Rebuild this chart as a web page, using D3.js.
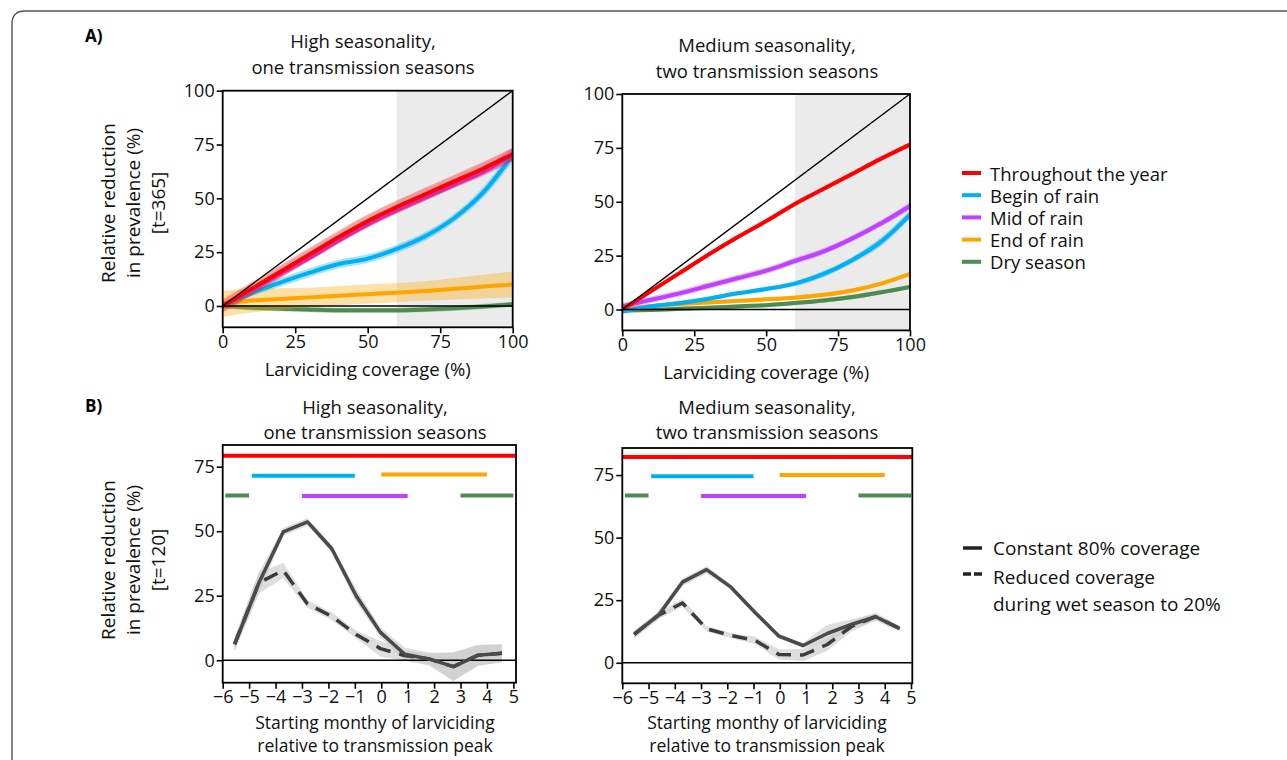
<!DOCTYPE html>
<html>
<head>
<meta charset="utf-8">
<script src="https://cdnjs.cloudflare.com/ajax/libs/d3/7.8.5/d3.min.js"></script>
<style>
  body { margin: 0; background: #fff; }
  svg { display: block; font-family: "Open Sans", Lato, sans-serif; }
</style>
</head>
<body>
<svg id="chart" width="1287" height="760"></svg>
<script>
// ---------------- data ----------------
let seasonNames = ['Throughout the year', 'Begin of rain', 'Mid of rain', 'End of rain', 'Dry season'];
let seasonColors = ['#ff0000', '#00b0f0', '#bf40ff', '#ffa500', '#4f8a4f'];

// A) relative reduction vs larviciding coverage
let coverage = [0, 10, 20, 30, 40, 50, 60, 70, 80, 90, 100];

let highThroughout = [0, 8, 16, 24, 32, 39.5, 46, 52, 58, 64, 70.5];
let highBegin      = [0, 6, 11, 15.5, 19.5, 22, 26.5, 32.5, 41, 53, 70];
let highMid        = [0, 7.5, 15, 22.5, 30.5, 38, 44.5, 50.5, 56.5, 62.5, 70.5];
let highEnd        = [1, 2.5, 3.2, 4, 4.8, 5.5, 6.2, 7, 8, 9, 10];
let highDry        = [0, -0.8, -1.3, -1.7, -2, -2, -2, -1.6, -1, -0.2, 0.8];
let highThroughoutCI = [3, 3, 3, 3, 3, 3, 3, 3, 3, 3, 3];
let highBeginCI      = [1, 1.5, 2, 2, 2, 2, 2, 2, 2, 2.5, 3];
let highMidCI        = [1.5, 1.5, 1.5, 1.5, 1.5, 1.5, 1.5, 1.5, 1.5, 2, 3];
let highEndCI        = [6, 5.5, 5, 4.5, 4.5, 4.5, 4.5, 4.5, 5, 5.5, 6];
let highDryCI        = [1.2, 1.2, 1.2, 1.2, 1.2, 1.2, 1.2, 1.2, 1.2, 1.2, 1.2];

let medThroughout = [0, 8.5, 17, 25.5, 33.5, 41, 49, 56, 63, 70, 76.5];
let medBegin      = [-1, 1.5, 3, 5, 7.5, 9.5, 12, 16.5, 23, 31.5, 44];
let medMid        = [1.5, 4.5, 7.5, 11, 14.5, 18, 22.5, 27, 33, 40, 48];
let medEnd        = [0, 1.5, 2.5, 3.3, 4, 4.7, 5.5, 6.8, 8.8, 12, 16.5];
let medDry        = [-0.5, -0.2, 0.3, 0.8, 1.4, 2, 3, 4.2, 5.8, 8, 10.5];
let medThroughoutCI = [1, 1, 1, 1, 1, 1, 1, 1, 1, 1, 1.2];
let medBeginCI      = [1, 1, 1, 1, 1, 1, 1.2, 1.5, 1.5, 2, 2];
let medMidCI        = [1.5, 1.5, 1.5, 1.5, 1.5, 1.5, 1.5, 1.5, 1.5, 1.5, 1.8];
let medEndCI        = [1, 1, 1, 1, 1, 1, 1, 1, 1, 1, 1];
let medDryCI        = [1, 1, 1, 1, 1, 1, 1, 1, 1, 1, 1];

let coverageTicks = [0, 25, 50, 75, 100];
let reductionTicksA = [0, 25, 50, 75, 100];
let targetBand = [60, 100];

// B) relative reduction vs starting month
let monthStart = [-5.55, -4.63, -3.71, -2.79, -1.87, -0.95, -0.03, 0.89, 1.81, 2.73, 3.65, 4.57];

let highConstant   = [6.2, 30, 49.7, 53.6, 43.2, 25, 10.8, 2.3, 0.5, -2.5, 1.9, 2.7];
let highConstantCI = [2.5, 4, 1.5, 1.5, 1.5, 2.5, 2, 2.5, 2.5, 5.5, 4, 3.5];
let highReduced    = [6.2, 30, 34.8, 21.8, 17, 10, 4.5, 1.8, 0.5, -2.5, 1.9, 2.7];
let highReducedCI  = [2.5, 4, 3, 1.5, 1.5, 1.5, 3, 2, 2, 5.5, 4, 3.5];

let medConstant   = [11.3, 18.9, 32.2, 37.2, 30.3, 20.2, 10.6, 6.9, 11.7, 15.3, 18.4, 13.7];
let medConstantCI = [1.5, 1.5, 1.5, 1.5, 1, 1, 1, 1, 3.5, 2, 1.5, 1];
let medReduced    = [11.3, 18.9, 23.9, 13.6, 10.9, 9.0, 3.3, 3.1, 7.3, 14.5, 18.4, 13.7];
let medReducedCI  = [1.5, 1.5, 1.5, 1, 1, 1.5, 2, 2.5, 2.5, 2, 1.5, 1];

// larviciding windows (months relative to peak), one list per season
let seasonWindows = [[[-6, 5.1]], [[-4.9, -1]], [[-3, 1]], [[0, 4]], [[-5.9, -5], [3, 5]]];
let highBarLevel = [79.2, 71.5, 63.6, 72, 63.8];
let medBarLevel  = [82.2, 74.5, 66.6, 75, 66.8];

let monthTicks = [-6, -5, -4, -3, -2, -1, 0, 1, 2, 3, 4, 5];
let reductionTicksB = [0, 25, 50, 75];

// ---------------- drawing ----------------
let svg = d3.select('#chart');
let defs = svg.append('defs');
let clip_n = 0;

let Panel = function(box, xDomain, yDomain){
  this.box = box;
  this.x = d3.scaleLinear().domain(xDomain).range([box.left, box.right]);
  this.y = d3.scaleLinear().domain(yDomain).range([box.bottom, box.top]);
  this.clip_id = 'clip' + (clip_n++);
  defs.append('clipPath').attr('id', this.clip_id).append('rect')
    .attr('x', box.left).attr('y', box.top)
    .attr('width', box.right - box.left).attr('height', box.bottom - box.top);
  this.root = svg.append('g');
  this.under = this.root.append('g');
  this.plot = this.root.append('g').attr('clip-path', 'url(#' + this.clip_id + ')');
};

Panel.prototype.shade = function(range){
  let x = this.x, y = this.y;
  this.under.append('rect')
    .attr('x', x(range[0])).attr('width', x(range[1]) - x(range[0]))
    .attr('y', y.range()[1]).attr('height', y.range()[0] - y.range()[1])
    .attr('fill', '#ebebeb');
};

Panel.prototype.series = function(xs, vals, ci, color, opt){
  let _this = this;
  opt = opt || {};
  let pts = xs.map((d, i) => ({x: d, v: vals[i], s: ci[i]}));
  let curve = opt.curve || d3.curveLinear;
  let band = d3.area().curve(curve)
    .x(d => _this.x(d.x)).y0(d => _this.y(d.v - d.s)).y1(d => _this.y(d.v + d.s));
  let line = d3.line().curve(curve).x(d => _this.x(d.x)).y(d => _this.y(d.v));
  if(opt.bandOnly || !opt.lineOnly){
    this.plot.append('path').attr('d', band(pts))
      .attr('fill', opt.bandColor || color).attr('fill-opacity', opt.bandOpacity || 0.35).attr('stroke', 'none');
  }
  if(opt.bandOnly) return;
  this.plot.append('path').attr('d', line(pts))
    .attr('fill', 'none').attr('stroke', color).attr('stroke-width', opt.width || 4)
    .attr('stroke-dasharray', opt.dash || null).attr('stroke-linejoin', 'round');
};

Panel.prototype.bars = function(level, windows, color){
  let _this = this;
  this.plot.selectAll(null).data(windows).enter().append('line')
    .attr('x1', d => _this.x(d[0])).attr('x2', d => _this.x(d[1]))
    .attr('y1', _this.y(level)).attr('y2', _this.y(level))
    .attr('stroke', color).attr('stroke-width', 4);
};

Panel.prototype.refLine = function(p0, p1){
  this.plot.append('line')
    .attr('x1', this.x(p0[0])).attr('y1', this.y(p0[1]))
    .attr('x2', this.x(p1[0])).attr('y2', this.y(p1[1]))
    .attr('stroke', '#000').attr('stroke-width', 1.4);
};

Panel.prototype.axes = function(xTicks, yTicks){
  let b = this.box;
  this.root.append('rect')
    .attr('x', b.left).attr('y', b.top).attr('width', b.right - b.left).attr('height', b.bottom - b.top)
    .attr('fill', 'none').attr('stroke', '#000').attr('stroke-width', 1.8);
  let gx = this.root.append('g').attr('transform', 'translate(0,' + b.bottom + ')')
    .call(d3.axisBottom(this.x).tickValues(xTicks).tickSize(6).tickPadding(2));
  let gy = this.root.append('g').attr('transform', 'translate(' + b.left + ',0)')
    .call(d3.axisLeft(this.y).tickValues(yTicks).tickSize(6).tickPadding(2));
  [gx, gy].forEach(g => {
    g.select('.domain').remove();
    g.selectAll('line').attr('stroke', '#000').attr('stroke-width', 1.6);
    g.selectAll('text').attr('font-family', '"Open Sans", sans-serif').attr('font-size', 18).attr('fill', '#111');
  });
};

let textLines = function(lines, cx, y0, step, size){
  lines.forEach((t, i) => {
    svg.append('text').attr('x', cx).attr('y', y0 + i * step)
      .attr('text-anchor', 'middle').attr('font-size', size).attr('fill', '#111').text(t);
  });
};

let yTitle = function(lines, xs, cy){
  lines.forEach((t, i) => {
    svg.append('text').attr('transform', 'translate(' + xs[i] + ',' + cy + ') rotate(-90)')
      .attr('text-anchor', 'middle').attr('dominant-baseline', 'central')
      .attr('font-size', 19).attr('fill', '#111').text(t);
  });
};

// rounded frame around the whole figure
svg.append('path').attr('d', 'M12,770 L12,24 Q12,11 25,11 L1300,11')
  .attr('fill', 'none').attr('stroke', '#555').attr('stroke-width', 1.4);

svg.append('text').attr('x', 85).attr('y', 42).attr('font-size', 17).attr('font-weight', 'bold').text('A)');
svg.append('text').attr('x', 85).attr('y', 412).attr('font-size', 17).attr('font-weight', 'bold').text('B)');

// ---- A panels
let aPanels = [
  {box: {left: 222.7, right: 512.7, top: 90.7, bottom: 327.3}, yMin: -9.9,
   vals: [highThroughout, highBegin, highMid, highEnd, highDry],
   ci: [highThroughoutCI, highBeginCI, highMidCI, highEndCI, highDryCI],
   title: ['High seasonality,', 'one transmission seasons'], titleY: 48, cx: 363},
  {box: {left: 622.3, right: 910, top: 94, bottom: 330.4}, yMin: -9.7,
   vals: [medThroughout, medBegin, medMid, medEnd, medDry],
   ci: [medThroughoutCI, medBeginCI, medMidCI, medEndCI, medDryCI],
   title: ['Medium seasonality,', 'two transmission seasons'], titleY: 52, cx: 767}
];
let drawOrderA = [4, 3, 1, 2, 0];

aPanels.forEach(cfg => {
  let p = new Panel(cfg.box, [0, 100], [cfg.yMin, 100]);
  p.shade(targetBand);
  drawOrderA.forEach(k => {
    p.series(coverage, cfg.vals[k], cfg.ci[k], seasonColors[k], {curve: d3.curveMonotoneX, width: 4});
  });
  p.refLine([0, 0], [100, 100]);
  p.refLine([0, 0], [100, 0]);
  p.axes(coverageTicks, reductionTicksA);
  let cx = (cfg.box.left + cfg.box.right) / 2;
  textLines(cfg.title, cfg.cx, cfg.titleY, 26, 18.5);
  textLines(['Larviciding coverage (%)'], cx, cfg.box.bottom + 49, 0, 18.5);
});
yTitle(['Relative reduction', 'in prevalence (%)', '[t=365]'], [108, 133, 158], 203);

// legend A
let legA = svg.append('g').attr('transform', 'translate(962,173)');
seasonNames.forEach((name, i) => {
  let row = legA.append('g').attr('transform', 'translate(0,' + (i * 22.2) + ')');
  row.append('line').attr('x1', 0).attr('x2', 19).attr('stroke', seasonColors[i]).attr('stroke-width', 4);
  row.append('text').attr('x', 28).attr('dominant-baseline', 'central').attr('font-size', 18.5).attr('fill', '#111').text(name);
});

// ---- B panels
let bPanels = [
  {box: {left: 222.7, right: 516, top: 445, bottom: 682.7}, xMax: 5.1, yDomain: [-8.7, 83.4],
   constant: highConstant, constantCI: highConstantCI, reduced: highReduced, reducedCI: highReducedCI,
   level: highBarLevel, title: ['High seasonality,', 'one transmission seasons'], cx: 375},
  {box: {left: 622.3, right: 912.3, top: 448, bottom: 683.3}, xMax: 5.05, yDomain: [-8.2, 85.8],
   constant: medConstant, constantCI: medConstantCI, reduced: medReduced, reducedCI: medReducedCI,
   level: medBarLevel, title: ['Medium seasonality,', 'two transmission seasons'], cx: 767}
];

bPanels.forEach(cfg => {
  let p = new Panel(cfg.box, [-6, cfg.xMax], cfg.yDomain);
  seasonWindows.forEach((w, k) => p.bars(cfg.level[k], w, seasonColors[k]));
  p.series(monthStart, cfg.reduced, cfg.reducedCI, '#999', {bandOnly: true, bandColor: '#c8c8c8', bandOpacity: 0.6});
  p.series(monthStart, cfg.constant, cfg.constantCI, '#999', {bandOnly: true, bandColor: '#c8c8c8', bandOpacity: 0.6});
  p.refLine([-6, 0], [cfg.xMax, 0]);
  p.series(monthStart, cfg.reduced, cfg.reducedCI, '#3c3c3c', {lineOnly: true, width: 3.5, dash: '15,9'});
  p.series(monthStart, cfg.constant, cfg.constantCI, '#4a4a4a', {lineOnly: true, width: 3.5});
  p.axes(monthTicks, reductionTicksB);
  textLines(cfg.title, cfg.cx, 414, 25, 18.5);
  textLines(['Starting monthy of larviciding', 'relative to transmission peak'], cfg.cx, 729, 23, 17.5);
});
yTitle(['Relative reduction', 'in prevalence (%)', '[t=120]'], [108, 133, 158], 560);

// legend B
let legB = svg.append('g').attr('transform', 'translate(963,548)');
legB.append('line').attr('x1', 0).attr('x2', 19).attr('stroke', '#222').attr('stroke-width', 3.5);
legB.append('line').attr('x1', 0).attr('x2', 19).attr('y1', 26).attr('y2', 26)
  .attr('stroke', '#222').attr('stroke-width', 3.5).attr('stroke-dasharray', '8,3');
legB.append('text').attr('x', 30).attr('dominant-baseline', 'central').attr('font-size', 19).attr('fill', '#111').text('Constant 80% coverage');
legB.append('text').attr('x', 30).attr('y', 29).attr('dominant-baseline', 'central').attr('font-size', 19).attr('fill', '#111').text('Reduced coverage');
legB.append('text').attr('x', 30).attr('y', 56).attr('dominant-baseline', 'central').attr('font-size', 19).attr('fill', '#111').text('during wet season to 20%');
</script>
</body>
</html>
